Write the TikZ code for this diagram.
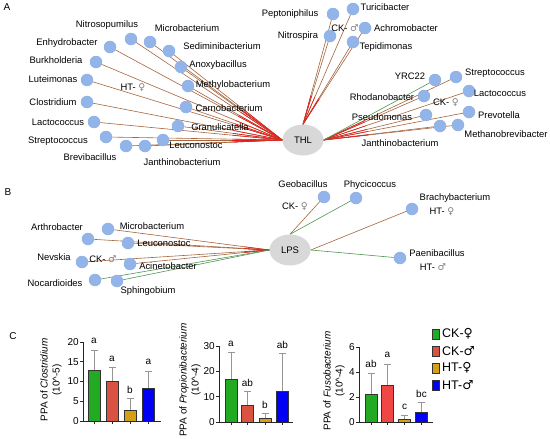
\documentclass[tikz,border=0pt]{standalone}
\usepackage{fontspec}
\setmainfont{Liberation Sans}
\newfontfamily\symf{DejaVu Sans}
\usetikzlibrary{calc,shapes.geometric}
\pgfdeclarelayer{bg}
\pgfsetlayers{bg,main}
\definecolor{leaf}{RGB}{146,180,232}
\definecolor{ebrown}{RGB}{165,100,60}
\definecolor{egreen}{RGB}{80,150,80}
\definecolor{ered}{RGB}{228,30,30}
\definecolor{hubgray}{RGB}{216,216,216}
\definecolor{bgreen}{RGB}{34,170,34}
\definecolor{bred}{RGB}{218,82,66}
\definecolor{bredb}{RGB}{240,70,70}
\definecolor{byellow}{RGB}{214,160,20}
\definecolor{bblue}{RGB}{0,0,245}
\definecolor{errc}{RGB}{150,150,150}
\newcommand{\fem}{\textcolor{gray}{\symf ♀}}
\newcommand{\mal}{\textcolor{gray}{\symf ♂}}
\begin{document}
\begin{tikzpicture}[x=1pt,y=-1pt,
  leafnode/.style={circle,fill=leaf,minimum size=12.5pt,inner sep=0pt},
  hubnode/.style={ellipse,fill=hubgray,minimum width=41pt,minimum height=31pt,inner sep=0pt,font=\fontsize{9.5}{11}\selectfont},
  lab/.style={inner sep=0pt,font=\fontsize{9.4}{11}\selectfont},
  be/.style={ebrown,line width=0.6pt},
  ge/.style={egreen,line width=0.6pt},
  re/.style={ered,line width=0.6pt},
  tick/.style={font=\fontsize{10}{12}\selectfont,inner sep=0pt,anchor=east},
  lett/.style={font=\fontsize{10}{12}\selectfont,inner sep=0pt},
  ylab/.style={font=\fontsize{10}{12}\selectfont,inner sep=0pt,rotate=90,align=center},
  bar/.style={draw=black!80,line width=0.6pt},
  errl/.style={errc,line width=0.6pt},
  axis/.style={black!85,line width=0.7pt},
  panel/.style={font=\fontsize{10}{12}\selectfont,inner sep=0pt}
]
\useasboundingbox (0,0) rectangle (550,439);

% ---------------- Panel A ----------------
\node[panel] (pA) at (7,7) {A};
\node[hubnode] (THL) at (303,140) {THL};

% left group
\node[leafnode] (aEnh) at (110,47) {};
\node[leafnode] (aNit) at (131,39) {};
\node[leafnode] (aMic) at (150,42) {};
\node[leafnode] (aSed) at (169,51) {};
\node[leafnode] (aBur) at (96,62) {};
\node[leafnode] (aAno) at (181,67) {};
\node[leafnode] (aLut) at (87,80) {};
\node[leafnode] (aMet) at (188,86) {};
\node[leafnode] (aClo) at (87,102) {};
\node[leafnode] (aCar) at (186,107) {};
\node[leafnode] (aLac) at (94,122) {};
\node[leafnode] (aGra) at (178,126) {};
\node[leafnode] (aStr) at (106,137) {};
\node[leafnode] (aLeu) at (163,140) {};
\node[leafnode] (aBre) at (126,146) {};
\node[leafnode] (aJan) at (145,146) {};

\node[lab] (tNit) at (107,25) {Nitrosopumilus};
\node[lab] (tMic) at (187,28) {Microbacterium};
\node[lab] (tEnh) at (67,43) {Enhydrobacter};
\node[lab] (tSed) at (222,46) {Sediminibacterium};
\node[lab] (tBur) at (56,60) {Burkholderia};
\node[lab] (tAno) at (218,65) {Anoxybacillus};
\node[lab] (tLut) at (53,79) {Luteimonas};
\node[lab] (tMet) at (233,85) {Methylobacterium};
\node[lab] (tHTf) at (133,88) {HT- \fem};
\node[lab] (tClo) at (53,102) {Clostridium};
\node[lab] (tCar) at (229,108) {Carnobacterium};
\node[lab] (tLac) at (58,122) {Lactococcus};
\node[lab] (tGra) at (220,127) {Granulicatella};
\node[lab] (tStr) at (58,141) {Streptococcus};
\node[lab] (tLeu) at (196,145) {Leuconostoc};
\node[lab] (tBre) at (90,157) {Brevibacillus};
\node[lab] (tJan) at (182,162) {Janthinobacterium};

% top group
\node[leafnode] (aPep) at (333,14) {};
\node[leafnode] (aTur) at (353,9) {};
\node[leafnode] (aNtr) at (330,36) {};
\node[leafnode] (aAch) at (365,28) {};
\node[leafnode] (aTep) at (353,42) {};
\node[lab] (tPep) at (290,14) {Peptoniphilus};
\node[lab] (tTur) at (385,7) {Turicibacter};
\node[lab] (tNtr) at (298,36) {Nitrospira};
\node[lab] (tCKm) at (345,28) {CK- \mal};
\node[lab] (tAch) at (406,28) {Achromobacter};
\node[lab] (tTep) at (386,47) {Tepidimonas};

% right group
\node[leafnode] (aYRC) at (435,80) {};
\node[leafnode] (aSt2) at (456,77) {};
\node[leafnode] (aRho) at (424,96) {};
\node[leafnode] (aLa2) at (469,91) {};
\node[leafnode] (aPse) at (426,115) {};
\node[leafnode] (aPre) at (469,112) {};
\node[leafnode] (aJa2) at (440,126) {};
\node[leafnode] (aMeb) at (458,125) {};
\node[lab] (tYRC) at (410,76) {YRC22};
\node[lab] (tSt2) at (495,73) {Streptococcus};
\node[lab] (tRho) at (382,97) {Rhodanobacter};
\node[lab] (tLa2) at (500,93) {Lactococcus};
\node[lab] (tCKf) at (446,103) {CK- \fem};
\node[lab] (tPse) at (382,117) {Pseudomonas};
\node[lab] (tPre) at (499,115) {Prevotella};
\node[lab] (tJa2) at (400,143) {Janthinobacterium};
\node[lab] (tMeb) at (506,134) {Methanobrevibacter};

\begin{pgfonlayer}{bg}
\foreach \n in {aEnh,aNit,aMic,aSed,aBur,aAno,aLut,aMet,aClo,aCar,aLac,aGra,aStr,aLeu,aBre,aJan}{
  \draw[be] (\n.center) -- (THL.west);
  \draw[re] ($(THL.west)!50pt!(\n.center)$) -- (THL.west);
}
\foreach \n in {aPep,aTur,aNtr,aAch,aTep}{
  \draw[be] (\n.center) -- (THL.north);
  \draw[re] ($(THL.north)!30pt!(\n.center)$) -- (THL.north);
}
\foreach \n in {aSt2,aRho,aLa2,aPse,aPre,aJa2,aMeb}{
  \draw[be] (\n.center) -- (THL.east);
  \draw[re] ($(THL.east)!45pt!(\n.center)$) -- (THL.east);
}
\draw[ge] (aYRC.center) -- (THL.east);
\end{pgfonlayer}

% ---------------- Panel B ----------------
\node[panel] (pB) at (8,192) {B};
\node[hubnode] (LPS) at (290,250) {LPS};

\node[leafnode] (bMic) at (108,229) {};
\node[leafnode] (bArt) at (88,239) {};
\node[leafnode] (bLeu) at (128,243) {};
\node[leafnode] (bNev) at (82,262) {};
\node[leafnode] (bAci) at (130,264) {};
\node[leafnode] (bNoc) at (95,280) {};
\node[leafnode] (bSph) at (117,281) {};
\node[leafnode] (bGeo) at (324,197) {};
\node[leafnode] (bPhy) at (356,198) {};
\node[leafnode] (bBra) at (412,209) {};
\node[leafnode] (bPae) at (400,258) {};

\node[lab] (uMic) at (152,226) {Microbacterium};
\node[lab] (uArt) at (57,227) {Arthrobacter};
\node[lab] (uLeu) at (164,243) {Leuconostoc};
\node[lab] (uNev) at (54,257) {Nevskia};
\node[lab] (uCKm) at (103,259) {CK- \mal};
\node[lab] (uAci) at (168,266) {Acinetobacter};
\node[lab] (uNoc) at (55,283) {Nocardioides};
\node[lab] (uSph) at (148,291) {Sphingobium};
\node[lab] (uGeo) at (303,184) {Geobacillus};
\node[lab] (uPhy) at (370,185) {Phycicoccus};
\node[lab] (uCKf) at (295,207) {CK- \fem};
\node[lab] (uBra) at (455,198) {Brachybacterium};
\node[lab] (uHTf) at (442,212) {HT- \fem};
\node[lab] (uPae) at (437,253) {Paenibacillus};
\node[lab] (uHTm) at (433,267) {HT- \mal};

\begin{pgfonlayer}{bg}
\foreach \n in {bMic,bArt,bLeu,bNev,bAci}{
  \draw[be] (\n.center) -- (LPS.west);
  \draw[re] ($(LPS.west)!25pt!(\n.center)$) -- (LPS.west);
}
\draw[ge] (bNoc.center) -- (LPS.west);
\draw[ge] (bSph.center) -- (LPS.west);
\draw[be] (bGeo.center) -- (LPS.north);
\draw[ge] (bPhy.center) -- (LPS.north);
\draw[be] (bBra.center) -- (LPS.east);
\draw[ge] (bPae.center) -- (LPS.east);
\end{pgfonlayer}

% ---------------- Panel C ----------------
\node[panel] (pC) at (13,336) {C};

% chart 1
\foreach \i/\cx/\v/\e/\l/\c in {1/94/12.8/18/a/bgreen,2/112/10/13.5/a/bred,3/130/2.7/5.7/b/byellow,4/148.5/8.3/12.6/a/bblue}{
  \draw[errl] (\cx,{421-\e*3.95}) -- (\cx,{421-\v*3.95});
  \draw[errl] ({\cx-3.5},{421-\e*3.95}) -- ({\cx+3.5},{421-\e*3.95});
  \filldraw[bar,fill=\c] ({\cx-6},421) rectangle ({\cx+6},{421-\v*3.95});
  \draw[axis] (\cx,421) -- (\cx,424);
  \node[lett] (c1l\i) at (\cx,{421-\e*3.95-9}) {\l};
}
\draw[axis] (83,421) -- (161,421);
\draw[axis] (83,421) -- (83,342);
\foreach \t in {0,5,10,15,20}{
  \draw[axis] (83,{421-\t*3.95}) -- (80,{421-\t*3.95});
  \node[tick] (c1t\t) at (79,{421-\t*3.95}) {\t};
}
\node[ylab] (c1y) at (51,380) {PPA of \textit{Clostridium}\\(10\^{}-5)};

% chart 2
\foreach \i/\cx/\v/\e/\l/\c in {1/231/17/27.5/a/bgreen,2/247.5/6.5/12/ab/bred,3/265/1.5/3.3/b/byellow,4/282.5/12/27/ab/bblue}{
  \draw[errl] (\cx,{422-\e*2.53}) -- (\cx,{422-\v*2.53});
  \draw[errl] ({\cx-3.5},{422-\e*2.53}) -- ({\cx+3.5},{422-\e*2.53});
  \filldraw[bar,fill=\c] ({\cx-6},422) rectangle ({\cx+6},{422-\v*2.53});
  \draw[axis] (\cx,422) -- (\cx,425);
  \node[lett] (c2l\i) at (\cx,{422-\e*2.53-9}) {\l};
}
\draw[axis] (219,422) -- (293,422);
\draw[axis] (219,422) -- (219,346);
\foreach \t in {0,10,20,30}{
  \draw[axis] (219,{422-\t*2.53}) -- (216,{422-\t*2.53});
  \node[tick] (c2t\t) at (215,{422-\t*2.53}) {\t};
}
\node[ylab] (c2y) at (190,380) {PPA of \textit{Propionibacterium}\\(10\^{}-4)};

% chart 3
\foreach \i/\cx/\v/\e/\l/\c in {1/371/2.25/3.9/ab/bgreen,2/387.5/2.9/4.65/a/bredb,3/404.5/0.2/0.5/c/byellow,4/421.5/0.75/1.55/bc/bblue}{
  \draw[errl] (\cx,{422-\e*12.5}) -- (\cx,{422-\v*12.5});
  \draw[errl] ({\cx-3.5},{422-\e*12.5}) -- ({\cx+3.5},{422-\e*12.5});
  \filldraw[bar,fill=\c] ({\cx-6},422) rectangle ({\cx+6},{422-\v*12.5});
  \draw[axis] (\cx,422) -- (\cx,425);
  \node[lett] (c3l\i) at (\cx,{422-\e*12.5-9}) {\l};
}
\draw[axis] (359,422) -- (433,422);
\draw[axis] (359,422) -- (359,347);
\foreach \t in {0,2,4,6}{
  \draw[axis] (359,{422-\t*12.5}) -- (356,{422-\t*12.5});
  \node[tick] (c3t\t) at (355,{422-\t*12.5}) {\t};
}
\node[ylab] (c3y) at (334,381) {PPA of \textit{Fusobacterium}\\(10\^{}-4)};

% legend
\foreach \i/\yy/\c/\txt in {1/334/bgreen/{CK-{\symf ♀}},2/351/bred/{CK-{\symf ♂}},3/368/byellow/{HT-{\symf ♀}},4/385/bblue/{HT-{\symf ♂}}}{
  \filldraw[bar,fill=\c] (432,{\yy-5}) rectangle (439,{\yy+5});
  \node[inner sep=0pt,anchor=west,font=\fontsize{12.5}{14}\selectfont] (lg\i) at (442,\yy) {\txt};
}
\end{tikzpicture}
\end{document}
